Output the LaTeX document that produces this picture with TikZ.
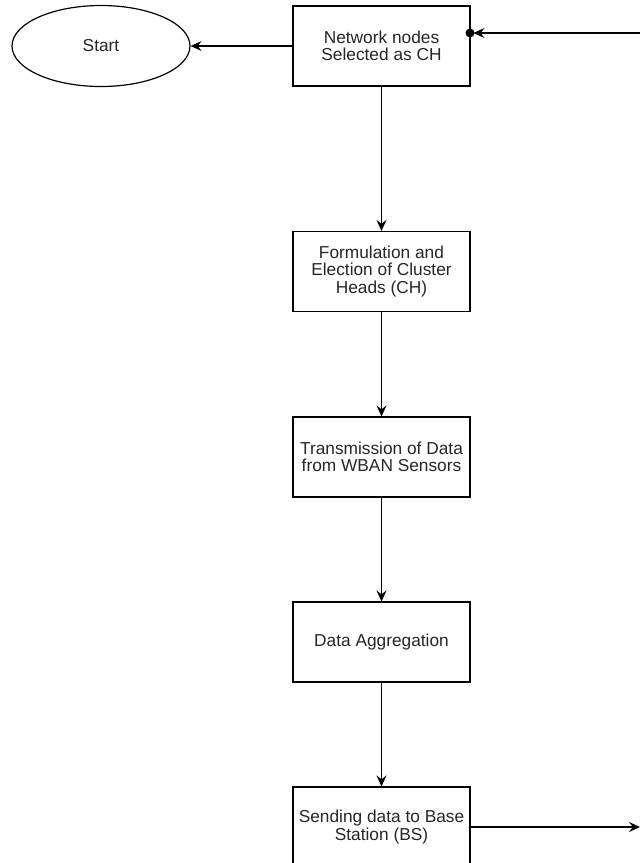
\documentclass[tikz,border=0pt]{standalone}
\usepackage{fontspec}
\setmainfont{Liberation Sans}
\usetikzlibrary{arrows.meta,shapes.geometric}
\begin{document}
\begin{tikzpicture}[x=1pt,y=1pt,
  box/.style={draw=black,line width=1.2pt,rectangle,minimum width=177pt,minimum height=80pt,inner sep=0pt,align=center,font=\fontsize{17.3}{17.4}\selectfont,text=black!85},
  oval/.style={draw=black,line width=1.2pt,ellipse,minimum width=178pt,minimum height=81pt,inner sep=0pt,font=\fontsize{17.3}{17.4}\selectfont,text=black!85},
  arr/.style={line width=1.2pt,-{Stealth[length=11pt,width=10pt,inset=4pt]}}]
\useasboundingbox (0,0) rectangle (640,-863);
\node[oval] (start) at (101,-46) {Start};
\node[box] (n1) at (381.5,-46) {Network nodes\\Selected as CH};
\node[box] (n2) at (381.5,-271.5) {Formulation and\\Election of Cluster\\Heads (CH)};
\node[box] (n3) at (381.5,-457) {Transmission of Data\\from WBAN Sensors};
\node[box] (n4) at (381.5,-642) {Data Aggregation};
\node[box] (n5) at (381.5,-827) {Sending data to Base\\Station (BS)};
\coordinate (r1) at (640,-33);
\coordinate (c1) at (470,-33);
\coordinate (r5) at (640,-827);
\draw[arr] (n1.west) -- (start.east);
\draw[arr] (n1.south) -- (n2.north);
\draw[arr] (n2.south) -- (n3.north);
\draw[arr] (n3.south) -- (n4.north);
\draw[arr] (n4.south) -- (n5.north);
\draw[arr] (n5.east) -- (r5);
\draw[arr,shorten >=3.5pt] (r1) -- (c1);
\fill (c1) circle (4.5pt);
\end{tikzpicture}
\end{document}
